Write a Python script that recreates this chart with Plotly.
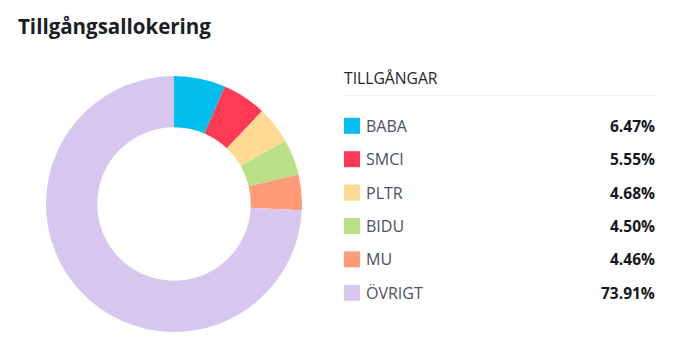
import plotly.graph_objects as go

# ---- data ----
tickers = ["BABA", "SMCI", "PLTR", "BIDU", "MU", "ÖVRIGT"]
weights = [6.47, 5.55, 4.68, 4.50, 4.46, 73.91]
colors = ["#02BFF0", "#FF3A54", "#FEDA93", "#B8E087", "#FF9B78", "#D7C6EE"]
title_text = "Tillgångsallokering"
legend_header = "TILLGÅNGAR"

W, H = 673, 356
def px(x): return x / W
def py(y): return 1 - y / H

fig = go.Figure()
fig.add_trace(go.Pie(
    labels=tickers, values=weights, sort=False, direction="clockwise", rotation=0,
    hole=0.6, marker=dict(colors=colors, line=dict(width=0)),
    textinfo="none", hoverinfo="label+percent", showlegend=False,
    domain=dict(x=[px(46), px(302)], y=[py(332), py(76)]),
))

annotations = [
    dict(text=title_text, x=px(16), y=py(26), xref="paper", yref="paper",
         xanchor="left", yanchor="middle", showarrow=False,
         font=dict(family="Open Sans", size=20.5, color="#1B1E25", weight=700)),
    dict(text=legend_header, x=px(342), y=py(78), xref="paper", yref="paper",
         xanchor="left", yanchor="middle", showarrow=False,
         font=dict(family="Open Sans", size=15.7, color="#23262D")),
]
shapes = [dict(type="line", xref="paper", yref="paper", x0=px(344), x1=px(656),
               y0=py(95.5), y1=py(95.5), line=dict(color="#EEEEF0", width=1))]

row0, step = 125.8, 33.4
for i, (t, w, c) in enumerate(zip(tickers, weights, colors)):
    yc = row0 + i * step
    shapes.append(dict(type="rect", xref="paper", yref="paper",
                       x0=px(344), x1=px(360), y0=py(yc - 8), y1=py(yc + 8),
                       fillcolor=c, line=dict(width=0)))
    annotations.append(dict(text=t, x=px(364), y=py(yc), xref="paper", yref="paper",
                            xanchor="left", yanchor="middle", showarrow=False,
                            font=dict(family="Open Sans", size=16, color="#4B5168")))
    annotations.append(dict(text=f"{w:.2f}%", x=px(657), y=py(yc), xref="paper", yref="paper",
                            xanchor="right", yanchor="middle", showarrow=False,
                            font=dict(family="Open Sans", size=15.5, color="#16181D", weight=700)))

fig.update_layout(
    width=W, height=H, margin=dict(l=0, r=0, t=0, b=0),
    paper_bgcolor="white", plot_bgcolor="white",
    annotations=annotations, shapes=shapes,
)
fig.write_html("out.html", config={"displayModeBar": False},
               post_script="document.body.style.margin='0';")
